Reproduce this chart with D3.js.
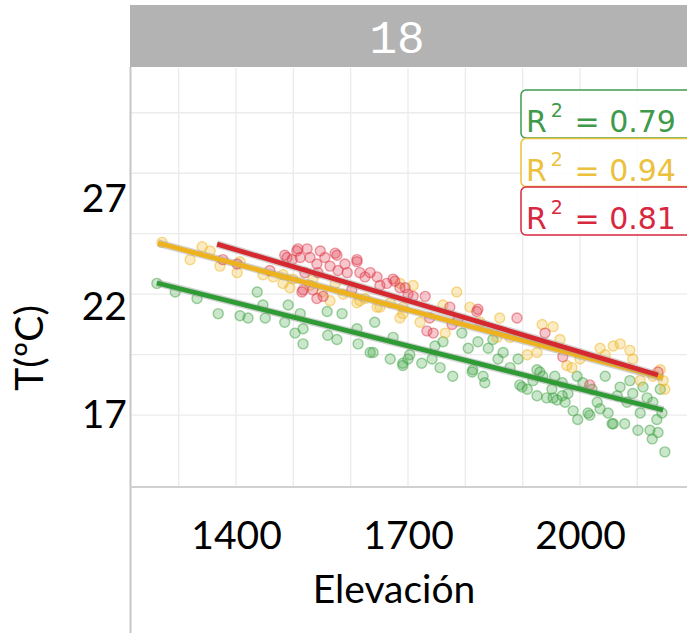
<!DOCTYPE html>
<html>
<head>
<meta charset="utf-8">
<script src="https://cdn.jsdelivr.net/npm/d3@7"></script>
<style>
  body { margin: 0; background: #fff; }
  .tick text { font-family: Lato, sans-serif; fill: #000; }
</style>
</head>
<body>
<div class="chart"></div>
<script>
// [elevación, temperatura]
const green = [[1262,23.0],[1294,22.6],[1332,22.3],[1369,21.6],[1407,21.5],[1421,21.4],[1437,22.6],[1451,21.4],
  [1447,22.0],[1491,22.0],[1485,21.2],[1503,20.7],[1517,20.9],[1517,20.2],[1512,21.6],[1559,21.7],[1560,20.6],
  [1576,20.4],[1585,21.6],[1611,20.9],[1613,20.2],[1634,19.8],[1639,19.8],[1642,21.2],[1669,19.5],[1674,20.5],
  [1691,19.2],[1700,19.5],[1691,19.3],[1703,19.7],[1724,19.3],[1742,19.5],[1747,20.1],[1756,19.1],[1761,20.3],
  [1778,18.7],[1794,20.7],[1805,20.0],[1812,18.9],[1822,20.3],[1831,18.7],[1834,18.4],[1840,20.0],[1848,20.4],
  [1857,19.5],[1866,19.8],[1878,19.1],[1892,19.5],[1899,18.2],[1908,18.1],[1918,18.5],[1925,19.0],[1930,18.9],
  [1935,18.7],[1942,17.7],[1951,18.1],[1960,17.6],[1969,18.4],[1974,17.5],[1979,17.9],[1988,17.1],[1995,18.7],
  [1996,16.7],[2005,18.4],[2014,17.0],[2021,18.1],[2030,17.5],[2035,17.2],[2044,18.7],[2049,17.0],[2058,16.5],
  [2065,17.8],[2070,18.2],[2078,16.5],[2082,17.5],[2087,18.5],[2092,17.9],[2101,16.2],[2105,17.0],[2110,18.2],
  [2117,17.7],[2122,16.2],[2126,15.8],[2127,17.5],[2134,16.7],[2136,16.1],[2140,18.1],[2143,17.0],[2148,15.2],
  [1813,19.0],[1895,18.3],[1925,17.8],[1953,17.7],[1956,18.7],[1969,17.8],[2017,16.9],[2056,16.5]]

const yellow = [[1271,24.9],[1320,24.1],[1341,24.7],[1355,24.5],[1372,23.8],[1407,24.0],[1402,23.5],[1447,23.4],
  [1465,23.3],[1482,23.0],[1499,23.2],[1494,22.8],[1529,22.9],[1550,22.6],[1564,22.2],[1587,22.5],[1611,22.1],
  [1625,22.3],[1646,21.9],[1669,22.1],[1686,21.4],[1691,21.9],[1709,22.9],[1691,21.6],[1721,21.2],[1761,22.0],
  [1785,22.6],[1765,20.7],[1808,21.9],[1826,21.2],[1855,20.5],[1860,21.4],[1878,20.5],[1908,19.7],[1925,19.8],
  [1934,21.1],[1953,21.0],[1965,20.4],[1977,19.2],[1986,19.1],[2000,19.5],[2035,20.0],[2044,19.7],[2058,20.1],
  [2070,20.2],[2087,19.9],[2092,19.5],[2105,18.5],[2127,18.7],[2145,18.5],[2148,18.1],[2140,19.0],
  [1482,23.4],[1534,23.2],[1573,23.0],[1616,22.2],[1651,21.9],[1686,23.0]]

const red = [[1485,24.3],[1498,24.1],[1506,24.5],[1512,24.2],[1524,24.6],[1529,24.2],[1541,23.9],[1547,24.5],
  [1555,24.2],[1573,24.4],[1564,23.8],[1578,23.6],[1590,23.9],[1594,23.5],[1611,24.1],[1616,23.5],[1625,23.3],
  [1634,23.5],[1646,23.3],[1651,22.9],[1663,23.0],[1677,23.1],[1686,22.8],[1700,22.5],[1709,22.4],[1515,22.6],
  [1534,22.7],[1552,22.4],[1520,23.5],[1543,23.5],[1602,22.7],[1377,24.1],[1402,23.9],[1459,23.6],[1489,24.2],
  [1508,24.6],[1517,22.7],[1541,22.3],[1576,24.3],[1611,24.0],[1674,23.2],[1695,22.8],[1730,22.4],[1738,21.4],
  [1744,20.7],[1777,21.1],[1787,21.3],[1820,21.7],[1890,21.4],[1939,20.7],[1970,19.6],[2017,18.3],[2136,18.9],
  [1773,21.9],[1822,21.8],[1733,20.8]]

// fitted lines, start and end
const greenFit = [[1262,23.02],[2145,17.14]]
const yellowFit = [[1264,24.87],[2145,18.62]]
const redFit = [[1367,24.82],[2136,18.76]]

const r2 = ['0.79', '0.94', '0.81']
const xTicks = [1400, 1700, 2000]
const yTicks = [27, 22, 17]
const gridE = [1300, 1400, 1500, 1600, 1700, 1800, 1900, 2000, 2100, 2200]
const gridT = [30.9, 28.1, 25.3, 22.5, 19.7, 16.9]

const W = 687, H = 633
const panel = { left: 130, top: 68, bottom: 487, right: 690 }

const x = d3.scaleLinear().domain([1400, 2000]).range([236, 580])
const y = d3.scaleLinear().domain([17, 27]).range([413, 197])

const svg = d3.select('.chart').append('svg')
  .attr('width', W).attr('height', H)

svg.append('rect').attr('width', W).attr('height', H).attr('fill', '#fff')

// strip
svg.append('rect')
  .attr('x', panel.left).attr('y', 5)
  .attr('width', panel.right - panel.left).attr('height', 62)
  .attr('fill', '#b3b3b3')
svg.append('text')
  .attr('x', 397).attr('y', 53)
  .attr('text-anchor', 'middle')
  .style('font-family', '"Liberation Mono", "DejaVu Sans Mono", monospace')
  .attr('font-size', 46)
  .attr('fill', '#fff')
  .text('18')

// grid
svg.append('g').selectAll('line').data(gridE).join('line')
  .attr('x1', d => x(d)).attr('x2', d => x(d))
  .attr('y1', panel.top).attr('y2', panel.bottom)
  .attr('stroke', '#ebebeb').attr('stroke-width', 1.3)
svg.append('g').selectAll('line').data(gridT).join('line')
  .attr('x1', panel.left).attr('x2', panel.right)
  .attr('y1', d => y(d)).attr('y2', d => y(d))
  .attr('stroke', '#ebebeb').attr('stroke-width', 1.3)

// points
const series = [
  { pts: green, col: '#3fa444' },
  { pts: yellow, col: '#f2b824' },
  { pts: red, col: '#e03a4a' }
]
series.forEach(s => {
  svg.append('g').selectAll('circle').data(s.pts).join('circle')
    .attr('cx', d => x(d[0])).attr('cy', d => y(d[1]))
    .attr('r', 5)
    .attr('fill', s.col).attr('fill-opacity', 0.28)
    .attr('stroke', s.col).attr('stroke-opacity', 0.5).attr('stroke-width', 1.4)
})

// fitted lines
const line = d3.line().x(d => x(d[0])).y(d => y(d[1]))
const fits = [
  { d: greenFit, col: '#2e9b35' },
  { d: yellowFit, col: '#efb21f' },
  { d: redFit, col: '#d6282f' }
]
fits.forEach(f => {
  svg.append('path').attr('d', line(f.d))
    .attr('fill', 'none').attr('stroke', '#999').attr('stroke-opacity', 0.45).attr('stroke-width', 7.5)
  svg.append('path').attr('d', line(f.d))
    .attr('fill', 'none').attr('stroke', f.col).attr('stroke-width', 4.8)
})

// panel borders
svg.append('line').attr('x1', 130.5).attr('x2', 130.5).attr('y1', 67).attr('y2', H)
  .attr('stroke', '#c6c6c6').attr('stroke-width', 2)
svg.append('line').attr('x1', 130).attr('x2', W).attr('y1', 487).attr('y2', 487)
  .attr('stroke', '#d0d0d0').attr('stroke-width', 2)

// R2 boxes
const boxCols = ['#3f9a4c', '#ecc13e', '#d8283f']
r2.forEach((v, i) => {
  const top = 90 + i * 48.5
  const g = svg.append('g')
  g.append('rect')
    .attr('x', 521).attr('y', top).attr('width', 190).attr('height', 48)
    .attr('rx', 5)
    .attr('fill', '#fff').attr('fill-opacity', 0.85)
    .attr('stroke', boxCols[i]).attr('stroke-width', 1.5)
  const t = g.append('text')
    .attr('x', 526).attr('y', top + 42)
    .style('font-family', '"DejaVu Sans", sans-serif')
    .attr('font-size', 30)
    .attr('fill', boxCols[i])
  t.append('tspan').text('R')
  t.append('tspan').attr('dy', -15).attr('dx', 4).attr('font-size', 19).text('2')
  t.append('tspan').attr('dy', 15).attr('dx', 2).text(' = ' + v)
})

// axes
const xAxis = svg.append('g')
  .attr('transform', `translate(0,${panel.bottom})`)
  .call(d3.axisBottom(x).tickValues(xTicks).tickSize(0).tickPadding(34).tickFormat(d3.format('d')))
xAxis.select('.domain').remove()
xAxis.selectAll('text').attr('font-size', 39)

const yAxis = svg.append('g')
  .attr('transform', `translate(${panel.left},0)`)
  .call(d3.axisLeft(y).tickValues(yTicks).tickSize(0).tickPadding(3))
yAxis.select('.domain').remove()
yAxis.selectAll('text').attr('font-size', 39).attr('dy', '0.36em')

svg.append('text')
  .attr('x', 394).attr('y', 603)
  .attr('text-anchor', 'middle')
  .attr('font-family', 'Lato, sans-serif').attr('font-size', 39)
  .text('Elevación')

svg.append('text')
  .attr('transform', 'translate(43,348) rotate(-90)')
  .attr('text-anchor', 'middle')
  .attr('font-family', 'Lato, sans-serif').attr('font-size', 39)
  .text('T(ºC)')
</script>
</body>
</html>
